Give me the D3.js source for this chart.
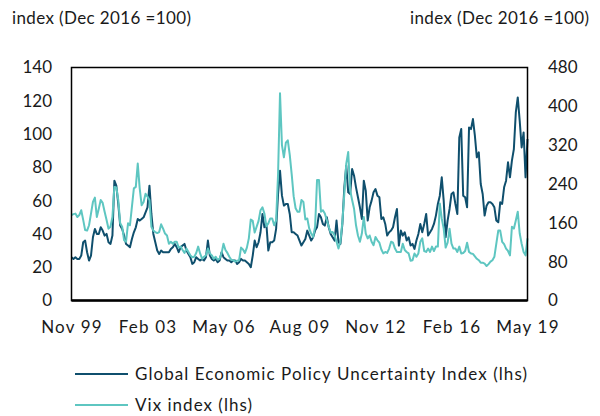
<!DOCTYPE html>
<html>
<head>
<meta charset="utf-8">
<script src="https://cdn.jsdelivr.net/npm/d3@7"></script>
<style>
  html, body { margin: 0; padding: 0; background: #fff; }
  svg { display: block; }
  text { font-family: Lato, "Open Sans", sans-serif; fill: #1a1a1a; }
</style>
</head>
<body>
<svg id="chart" width="600" height="416"></svg>
<script>
// ---- Data (monthly, Nov 1999 – May 2019) ----
const xTickLabels = ["Nov 99", "Feb 03", "May 06", "Aug 09", "Nov 12", "Feb 16", "May 19"];
const xTickIndex = [0, 39, 78, 117, 156, 195, 234];
const leftTicks = [0, 20, 40, 60, 80, 100, 120, 140];
const rightTicks = [0, 80, 160, 240, 320, 400, 480];

// Global Economic Policy Uncertainty Index (left axis)
const gepu = [
  26,25,26,25,25,27,35,36,29,24,
  27,38,43,40,40,44,42,39,40,35,
  34,39,72,69,58,45,43,39,34,33,
  32,37,41,44,49,48,49,50,53,56,
  69,52,40,35,30,28,30,29,29,29,
  29,31,32,34,32,29,32,33,34,30,
  28,26,22,23,26,25,24,25,24,26,
  36,27,25,24,25,23,24,29,26,25,
  24,24,23,24,24,22,23,25,24,24,
  23,22,20,27,36,32,35,41,52,44,
  46,30,35,35,36,43,64,78,63,57,
  58,58,52,41,41,40,39,36,33,35,
  37,42,39,36,38,42,44,52,50,46,
  45,50,44,40,38,36,48,35,34,46,
  68,81,65,64,79,75,68,62,56,49,
  72,66,48,56,60,65,67,63,62,49,
  50,46,39,41,42,44,50,55,33,42,
  39,41,36,38,33,34,31,36,40,46,
  41,46,52,39,41,43,46,51,58,63,
  74,60,38,48,55,64,65,58,52,98,
  103,63,62,56,104,103,109,99,86,89,
  70,64,51,57,59,59,58,56,48,47,
  59,58,68,72,83,74,84,91,113,122,
  108,92,101,74,97
];

// VIX index (plotted against the right-hand scale)
const vix = [
  176,178,179,172,176,186,166,145,144,155,
  179,203,212,172,189,207,201,183,166,148,
  152,172,234,233,207,159,152,124,121,159,
  155,193,231,234,282,231,196,203,220,214,
  207,152,144,141,139,141,157,148,138,134,
  117,121,117,121,121,109,111,104,98,107,
  100,93,89,90,98,111,97,86,90,93,
  107,97,93,86,90,84,86,97,117,104,
  98,90,84,83,80,82,83,109,105,98,
  109,128,167,164,140,152,164,186,192,179,
  153,159,169,169,155,165,260,427,320,295,
  325,330,300,260,215,190,183,183,207,203,
  167,169,148,138,131,152,248,248,183,186,
  179,166,152,140,141,134,121,107,121,162,
  220,282,306,227,207,189,155,134,121,138,
  172,138,128,134,121,114,131,124,119,105,
  97,100,98,107,121,119,107,100,100,100,
  117,104,100,97,82,83,97,90,97,121,
  128,102,100,107,100,111,102,111,111,200,
  169,148,109,119,148,117,107,107,100,111,
  97,98,102,119,100,97,96,91,86,83,
  78,78,76,71,75,80,83,90,117,144,
  144,121,116,107,102,93,152,148,165,183,
  138,117,100,93,128
];

const seriesNames = ["Global Economic Policy Uncertainty Index (lhs)", "Vix index (lhs)"];
const legendWidths = [392, 117];
const colors = ["#0f4f6d", "#5ec6c1"];
const axisTitle = "index (Dec 2016 =100)";

// ---- Layout ----
const svg = d3.select("#chart");
const plot = { left: 71.5, right: 527.5, top: 67.5, bottom: 300.5 };
const fontSize = 17;

const x = d3.scaleLinear().domain([0, gepu.length - 1]).range([plot.left, plot.right]);
const yL = d3.scaleLinear().domain([0, 140]).range([plot.bottom, plot.top]);
const yR = d3.scaleLinear().domain([0, 480]).range([plot.bottom, plot.top]);

// Axes
const gL = svg.append("g").attr("transform", `translate(${plot.left},0)`)
  .call(d3.axisLeft(yL).tickValues(leftTicks).tickSize(0).tickPadding(19.5));
const gR = svg.append("g").attr("transform", `translate(${plot.right},0)`)
  .call(d3.axisRight(yR).tickValues(rightTicks).tickSize(0).tickPadding(20.5));
const gX = svg.append("g").attr("transform", `translate(0,${plot.bottom})`)
  .call(d3.axisBottom(x).tickValues(xTickIndex).tickSize(0).tickPadding(20)
    .tickFormat((d, i) => xTickLabels[i]));
[gL, gR, gX].forEach(g => {
  g.select(".domain").remove();
  g.selectAll("text").attr("font-size", fontSize).attr("font-family", "Lato, sans-serif").attr("fill", "#1a1a1a");
});
gX.selectAll("text").attr("letter-spacing", 1.2);

// Lines
const lineL = d3.line().x((d, i) => x(i)).y(d => yL(d));
const lineR = d3.line().x((d, i) => x(i)).y(d => yR(d));
svg.append("path").datum(gepu).attr("d", lineL)
  .attr("fill", "none").attr("stroke", colors[0]).attr("stroke-width", 2).attr("stroke-linejoin", "round");
svg.append("path").datum(vix).attr("d", lineR)
  .attr("fill", "none").attr("stroke", colors[1]).attr("stroke-width", 2).attr("stroke-linejoin", "round");

// Frame
svg.append("rect")
  .attr("x", plot.left).attr("y", plot.top)
  .attr("width", plot.right - plot.left).attr("height", plot.bottom - plot.top)
  .attr("fill", "none").attr("stroke", "#000").attr("stroke-width", 1.5);
svg.append("line")
  .attr("x1", plot.left).attr("x2", plot.right)
  .attr("y1", plot.bottom).attr("y2", plot.bottom)
  .attr("stroke", "#000").attr("stroke-width", 2.5);

// Axis titles
svg.append("text").attr("x", 12).attr("y", 24).attr("font-size", fontSize)
  .attr("textLength", 179).attr("lengthAdjust", "spacing").text(axisTitle);
svg.append("text").attr("x", 410).attr("y", 24).attr("font-size", fontSize)
  .attr("textLength", 179).attr("lengthAdjust", "spacing").text(axisTitle);

// Legend
const legend = svg.append("g");
seriesNames.forEach((name, i) => {
  const ly = 374 + i * 31;
  legend.append("line").attr("x1", 75).attr("x2", 128).attr("y1", ly).attr("y2", ly)
    .attr("stroke", colors[i]).attr("stroke-width", 2);
  legend.append("text").attr("x", 135).attr("y", ly + 6).attr("font-size", fontSize)
    .attr("textLength", legendWidths[i]).attr("lengthAdjust", "spacing").text(name);
});
</script>
</body>
</html>
